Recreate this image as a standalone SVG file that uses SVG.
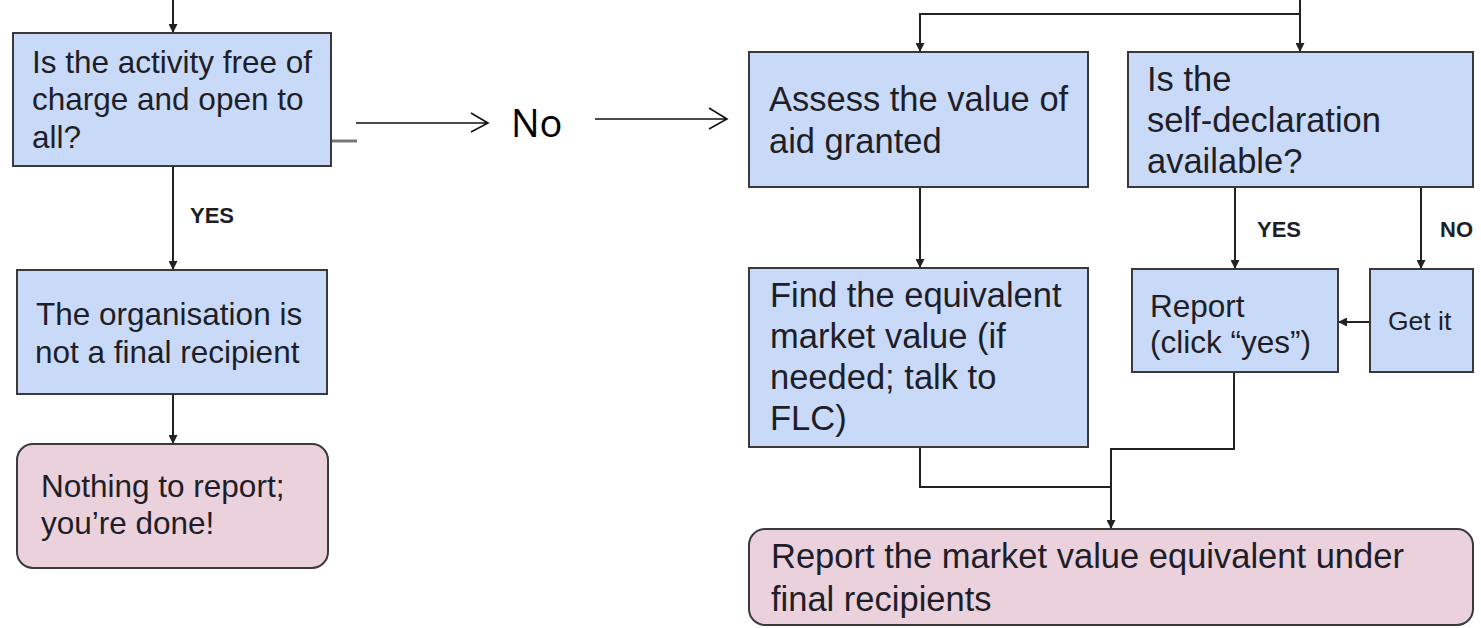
<svg xmlns="http://www.w3.org/2000/svg" width="1481" height="628" viewBox="0 0 1481 628">
<defs>
<style>
.box{fill:#c9daf8;stroke:#3a3a3a;stroke-width:2}
.term{fill:#ead1dc;stroke:#3a3a3a;stroke-width:2}
.t{font-family:"Liberation Sans",Arial,sans-serif;fill:#1e1e28}
.l{font-size:31.5px}
.r{font-size:34.5px}
.lab{font-family:"Liberation Sans",Arial,sans-serif;font-weight:bold;font-size:22px;fill:#1e1e28}
.c{fill:none;stroke:#222;stroke-width:2}
.thin{fill:none;stroke:#111;stroke-width:1.6}
</style>
<marker id="ah" viewBox="0 0 10 10" refX="10" refY="5" markerWidth="9" markerHeight="9" markerUnits="userSpaceOnUse" orient="auto">
<path d="M0,0 L10,5 L0,10 z" fill="#222"/>
</marker>
</defs>
<rect width="1481" height="628" fill="#ffffff"/>
<g id="connectors">
<path class="c" d="M173,0 V33" marker-end="url(#ah)"/>
<path d="M331,141 H357" stroke="#777" stroke-width="3" fill="none"/>
<path class="c" d="M173,166 V270" marker-end="url(#ah)"/>
<path class="c" d="M173,394 V444" marker-end="url(#ah)"/>
<path class="thin" d="M356,123 H488 M471,113 L488,123 L471,132"/>
<path class="thin" d="M595,119 H727 M709,108 L727,119 L709,129"/>
<path class="c" d="M1300,0 V52" marker-end="url(#ah)"/>
<path class="c" d="M1300,14 H920 V52" marker-end="url(#ah)"/>
<path class="c" d="M920,187 V268" marker-end="url(#ah)"/>
<path class="c" d="M1235,187 V269" marker-end="url(#ah)"/>
<path class="c" d="M1421,187 V269" marker-end="url(#ah)"/>
<path class="c" d="M1370,322 H1338" marker-end="url(#ah)"/>
<path class="c" d="M920,447 V487 H1111"/>
<path class="c" d="M1234,372 V449 H1111 V529" marker-end="url(#ah)"/>
</g>
<g id="no-label"><text x="511" y="137" font-family="'Open Sans',sans-serif" font-size="38" fill="#000">No</text></g>
<g id="lab-yes-left"><text class="lab" x="190" y="223">YES</text></g>
<g id="lab-yes-right"><text class="lab" x="1257" y="237">YES</text></g>
<g id="lab-no-right"><text class="lab" x="1440" y="237">NO</text></g>
<g id="n-free">
<rect class="box" x="13" y="33" width="318" height="133"/>
<text class="t l" x="32" y="73">Is the activity free of</text>
<text class="t l" x="32" y="110">charge and open to</text>
<text class="t l" x="32" y="148">all?</text>
</g>
<g id="n-notfinal">
<rect class="box" x="17" y="270" width="310" height="124"/>
<text class="t l" x="36" y="325">The organisation is</text>
<text class="t l" x="35" y="363">not a final recipient</text>
</g>
<g id="n-nothing">
<rect class="term" x="17" y="444" width="311" height="124" rx="16"/>
<text class="t l" x="41" y="497">Nothing to report;</text>
<text class="t l" x="41" y="534">you’re done!</text>
</g>
<g id="n-assess">
<rect class="box" x="749" y="52" width="339" height="135"/>
<text class="t r" x="769" y="111">Assess the value of</text>
<text class="t r" x="769" y="153">aid granted</text>
</g>
<g id="n-selfdecl">
<rect class="box" x="1128" y="52" width="345" height="135"/>
<text class="t r" x="1147" y="91">Is the</text>
<text class="t r" x="1147" y="132">self-declaration</text>
<text class="t r" x="1147" y="173">available?</text>
</g>
<g id="n-find">
<rect class="box" x="749" y="268" width="339" height="179"/>
<text class="t r" x="770" y="307">Find the equivalent</text>
<text class="t r" x="770" y="348">market value (if</text>
<text class="t r" x="770" y="389">needed; talk to</text>
<text class="t r" x="770" y="430">FLC)</text>
</g>
<g id="n-report">
<rect class="box" x="1132" y="269" width="206" height="103"/>
<text class="t l" x="1150" y="317">Report</text>
<text class="t l" x="1150" y="353">(click “yes”)</text>
</g>
<g id="n-getit">
<rect class="box" x="1370" y="269" width="103" height="103"/>
<text class="t" x="1388" y="330" font-size="26.5">Get it</text>
</g>
<g id="n-final">
<rect class="term" x="749" y="529" width="724" height="96" rx="16"/>
<text class="t r" x="771" y="568">Report the market value equivalent under</text>
<text class="t r" x="771" y="611">final recipients</text>
</g>
</svg>
